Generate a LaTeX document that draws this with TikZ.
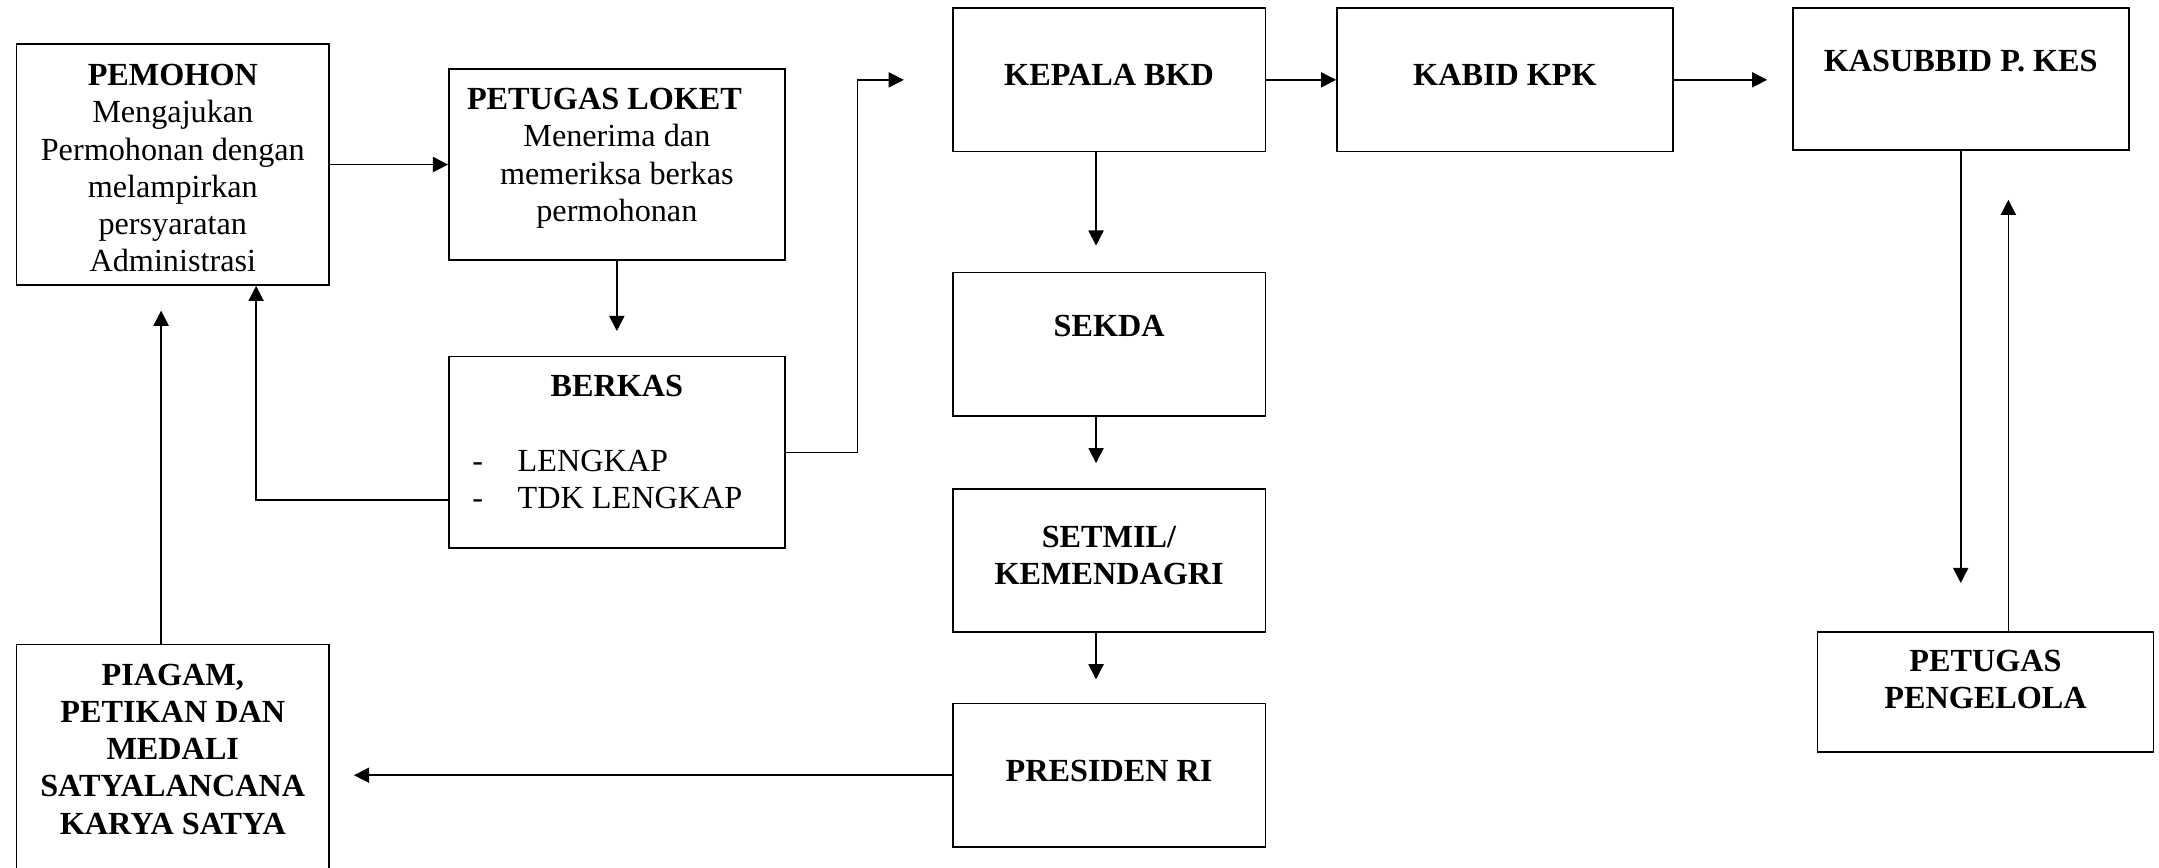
\documentclass[tikz,border=0pt]{standalone}
\usepackage{fontspec}
\setmainfont{Liberation Serif}
\usetikzlibrary{arrows.meta}
\tikzstyle{bx1} = [draw, rectangle, line width=0.6pt, minimum width=113.5pt, align=center, font=\fontsize{11.7}{13.5}\selectfont]
\tikzstyle{bx2} = [bx1, minimum width=122pt]
\tikzstyle{ar} = [-{Triangle[length=5.5pt,width=5.5pt]}, line width=0.55pt]
\newcommand{\itm}[1]{\makebox[105pt][l]{\makebox[16.5pt][l]{-}#1}}

\begin{document}
\begin{tikzpicture}[x=0.5pt, y=-0.5pt]
\useasboundingbox (0,0) rectangle (1568,630);
\clip (0,0) rectangle (1568,630);
\node(P)[bx1, minimum height=87.5pt] at (125.5,119.5) {\textbf{PEMOHON}\\Mengajukan\\Permohonan dengan\\melampirkan\\persyaratan\\Administrasi\\[-16pt]\mbox{}};
\node(L)[bx2, minimum height=69.5pt] at (448,119.5) {\textbf{PETUGAS LOKET}\kern9pt\\Menerima dan\\memeriksa berkas\\permohonan\\[-6.5pt]\mbox{}};
\node(B)[bx2, minimum height=69.5pt] at (448,328.5) {\textbf{BERKAS}\\ \mbox{}\\\itm{LENGKAP}\\\itm{TDK LENGKAP}\\[-6pt]\mbox{}};
\node(G)[bx1, minimum height=91pt] at (125.5,559) {\textbf{PIAGAM,}\\\textbf{PETIKAN DAN}\\\textbf{MEDALI}\\\textbf{SATYALANCANA}\\\textbf{KARYA SATYA}\\[1.5pt]\mbox{}};
% kolom tengah
\node(K)[bx1, minimum height=52pt] at (805.5,58) {\textbf{KEPALA BKD}\\[-10pt]\mbox{}};
\node(S)[bx1, minimum height=52pt] at (805.5,250) {\textbf{SEKDA}\\ \mbox{}};
\node(M)[bx1, minimum height=52pt] at (805.5,407) {\textbf{SETMIL/}\\\textbf{KEMENDAGRI}\\[-10pt]\mbox{}};
\node(R)[bx1, minimum height=52pt] at (805.5,563) {\textbf{PRESIDEN RI}\\[-10pt]\mbox{}};
% baris atas kanan
\node(KB)[bx2, minimum height=52pt] at (1093,58) {\textbf{KABID KPK}\\[-10pt]\mbox{}};
\node(KS)[bx2, minimum height=51.5pt] at (1424,57.5) {\textbf{KASUBBID P. KES}\\ \mbox{}};
\node(PG)[bx2, minimum height=43.5pt] at (1442,502.5) {\textbf{PETUGAS}\\\textbf{PENGELOLA}\\[-4.5pt]\mbox{}};
\draw[ar] (P.east) -- (L.west);
\draw[ar, shorten >=9pt] (L) -- (B);
\draw[ar, shorten >=17.5pt] (B.east) -- ++(52,0) |- (K.west);
\draw[ar] ([yshift=-17.25pt]B.west) -| ([xshift=30.25pt]P.south);
\draw[ar, shorten >=9pt] ([xshift=-4.25pt]G.north) -- ([xshift=-4.25pt]P.south);
\draw[ar] (K.east) -- (KB.west);
\draw[ar, shorten >=9pt] (KB.east) -- (KB.east -| KS.west);
\draw[ar, shorten >=9.5pt] ([xshift=-4.75pt]K.south) -- ([xshift=-4.75pt]S.north);
\draw[ar, shorten >=9pt] ([xshift=-4.75pt]S.south) -- ([xshift=-4.75pt]M.north);
\draw[ar, shorten >=8.5pt] ([xshift=-4.75pt]M.south) -- ([xshift=-4.75pt]R.north);
\draw[ar, shorten >=8.75pt] (R.west) -- (R.west -| G.east);
\draw[ar, shorten >=17.5pt] (KS.south) -- (KS.south |- PG.north);
\draw[ar, shorten >=17.75pt] ([xshift=8.3pt]PG.north) -- ([xshift=8.3pt]PG.north |- KS.south);
\end{tikzpicture}
\end{document}
